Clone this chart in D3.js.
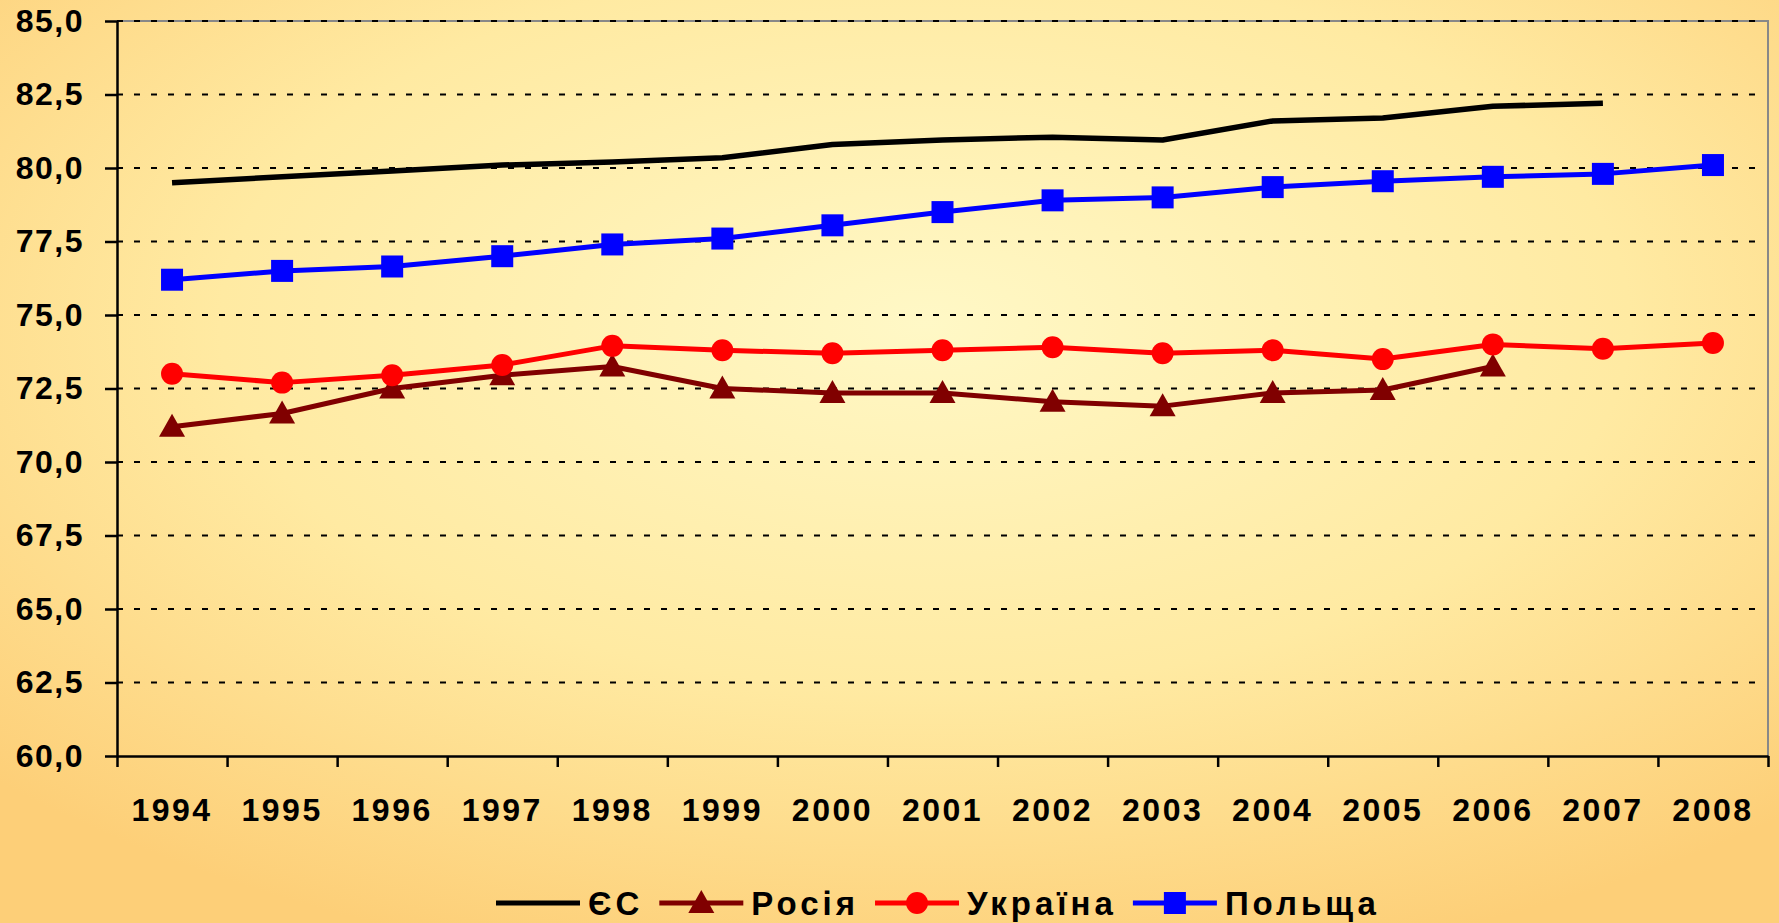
<!DOCTYPE html>
<html><head><meta charset="utf-8">
<script src="https://cdn.jsdelivr.net/npm/d3@7"></script>
<style>html,body{margin:0;padding:0;overflow:hidden;background:#FDD27C}</style>
</head><body>
<svg id="chart" width="1779" height="923"></svg>
<script>
const years = ["1994","1995","1996","1997","1998","1999","2000","2001","2002","2003","2004","2005","2006","2007","2008"];
const yTicks = [60,62.5,65,67.5,70,72.5,75,77.5,80,82.5,85];
const seriesNames = ["ЄС","Росія","Україна","Польща"];
const eu      = [79.5,79.7,79.9,80.1,80.2,80.35,80.8,80.95,81.05,80.95,81.6,81.7,82.1,82.2,null];
const russia  = [71.2,71.65,72.5,72.95,73.25,72.5,72.35,72.35,72.05,71.9,72.35,72.45,73.25,null,null];
const ukraine = [73.0,72.7,72.95,73.3,73.95,73.8,73.7,73.8,73.9,73.7,73.8,73.5,74.0,73.85,74.05];
const poland  = [76.2,76.5,76.65,77.0,77.4,77.6,78.05,78.5,78.9,79.0,79.35,79.55,79.7,79.8,80.1];

const W=1779,H=923;
const L=117,R=1768,T=21,B=756;
const svg=d3.select("#chart");
const defs=svg.append("defs");
const rg=defs.append("radialGradient").attr("id","bg").attr("cx","52%").attr("cy","35%").attr("r","72%");
rg.append("stop").attr("offset","0").attr("stop-color","#FFF8C6");
rg.append("stop").attr("offset","0.55").attr("stop-color","#FFEAA2");
rg.append("stop").attr("offset","1").attr("stop-color","#FDCF78");
svg.append("rect").attr("width",W).attr("height",H).attr("fill","url(#bg)");

const x=d3.scaleBand().domain(years).range([L,R]);
const xEdge=d3.scaleLinear().domain([0,years.length]).range([L,R]);
const y=d3.scaleLinear().domain([60,85]).range([B,T]);
const cx=d=>x(d)+x.bandwidth()/2;

// gridlines
svg.append("g").selectAll("line").data(yTicks.filter(v=>v>60)).join("line")
  .attr("x1",L).attr("x2",R-6).attr("y1",d=>y(d)).attr("y2",d=>y(d))
  .attr("stroke","#000").attr("stroke-width",2).attr("stroke-dasharray","6,11");
// gray border top/right
svg.append("path").attr("d",`M${L},${T}H${R}V${B}`).attr("fill","none").attr("stroke","#888").attr("stroke-width",2);
svg.append("g").selectAll("line").data([85]).join("line")
  .attr("x1",L).attr("x2",R-6).attr("y1",d=>y(d)).attr("y2",d=>y(d))
  .attr("stroke","#000").attr("stroke-width",2).attr("stroke-dasharray","6,11");

const font="'Liberation Sans', Arial, sans-serif";
// y axis
const ya=svg.append("g").attr("transform",`translate(${L},0)`)
  .call(d3.axisLeft(y).tickValues(yTicks).tickFormat(d=>d.toFixed(1).replace(".",",")).tickSize(12).tickSizeOuter(0).tickPadding(34));
ya.select(".domain").attr("stroke","#000").attr("stroke-width",2.5);
ya.selectAll(".tick line").attr("stroke","#000").attr("stroke-width",2.5);
ya.selectAll("text").attr("font-family",font).attr("font-weight","bold").attr("font-size",32)
  .attr("letter-spacing","1.5px").attr("fill","#000").attr("x",-33);

// x axis ticks at edges
const xe=svg.append("g").attr("transform",`translate(0,${B})`)
  .call(d3.axisBottom(xEdge).tickValues(d3.range(years.length+1)).tickFormat("").tickSize(11).tickSizeOuter(0));
xe.select(".domain").attr("stroke","#000").attr("stroke-width",2.5);
xe.selectAll(".tick line").attr("stroke","#000").attr("stroke-width",2.5);
// x labels
const xl=svg.append("g").attr("transform",`translate(0,${B})`)
  .call(d3.axisBottom(x).tickSize(0).tickPadding(0));
xl.select(".domain").remove();
xl.selectAll("text").attr("font-family",font).attr("font-weight","bold").attr("font-size",32)
  .attr("letter-spacing","2.5px").attr("fill","#000").attr("y",65).attr("dy",0);

const series=[
  {name:seriesNames[0],vals:eu,color:"#000000",marker:null,w:5.5},
  {name:seriesNames[1],vals:russia,color:"#800000",marker:"tri",w:5},
  {name:seriesNames[2],vals:ukraine,color:"#FF0000",marker:"circ",w:5},
  {name:seriesNames[3],vals:poland,color:"#0000FF",marker:"sq",w:5}
];
const line=d3.line().defined(d=>d.v!=null).x(d=>cx(d.yr)).y(d=>y(d.v));
function drawMarker(g,type,color){
  if(type==="tri") g.append("path").attr("d","M0,-13L13,10L-13,10Z").attr("fill",color);
  else if(type==="circ") g.append("circle").attr("r",11).attr("fill",color);
  else if(type==="sq") g.append("rect").attr("x",-11).attr("y",-11).attr("width",22).attr("height",22).attr("fill",color);
}
const order=[0,3,1,2];
order.forEach(i=>{
  const s=series[i];
  const pts=years.map((yr,j)=>({yr,v:s.vals[j]}));
  svg.append("path").datum(pts).attr("d",line).attr("fill","none").attr("stroke",s.color)
    .attr("stroke-width",s.w).attr("stroke-linejoin","round");
  if(s.marker){
    pts.filter(p=>p.v!=null).forEach(p=>{
      const g=svg.append("g").attr("transform",`translate(${cx(p.yr)},${y(p.v)})`);
      drawMarker(g,s.marker,s.color);
    });
  }
});

// legend
const lg=svg.append("g");
let lx=496; const ly=903;
series.forEach(s=>{
  lg.append("line").attr("x1",lx).attr("x2",lx+84).attr("y1",ly).attr("y2",ly).attr("stroke",s.color).attr("stroke-width",5);
  if(s.marker){const g=lg.append("g").attr("transform",`translate(${lx+42},${ly})`); drawMarker(g,s.marker,s.color);}
  const t=lg.append("text").attr("x",lx+92).attr("y",ly+12).text(s.name)
    .attr("font-family",font).attr("font-weight","bold").attr("font-size",33).attr("letter-spacing","4px").attr("fill","#000");
  lx=lx+92+t.node().getComputedTextLength()+16;
});
</script>
</body></html>
